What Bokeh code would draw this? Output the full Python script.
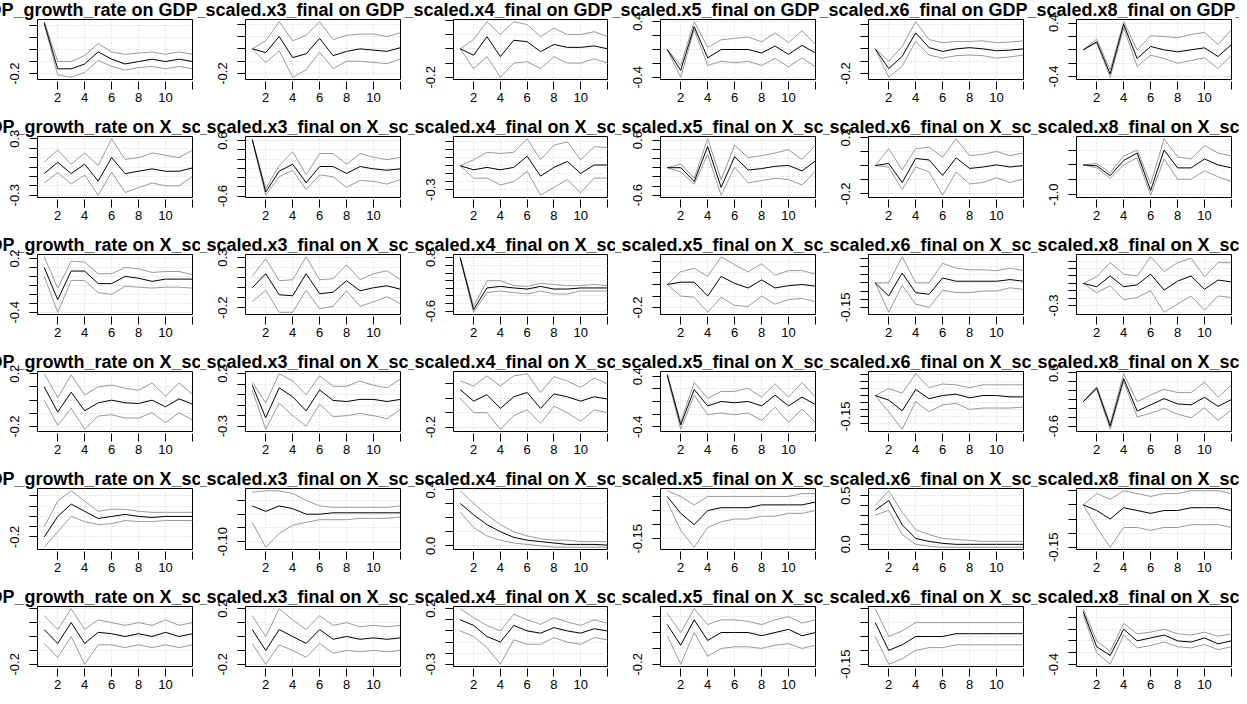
from bokeh.plotting import figure
from bokeh.layouts import gridplot
from bokeh.models import Range1d, FixedTicker, Title
from bokeh.embed import file_html
from bokeh.resources import INLINE

variables = ["GDP_growth_rate", "X_scaled.x3_final", "X_scaled.x4_final",
             "X_scaled.x5_final", "X_scaled.x6_final", "X_scaled.x8_final"]
horizon = [1, 2, 3, 4, 5, 6, 7, 8, 9, 10, 11, 12]
x_ticks = [2, 4, 6, 8, 10, 12]
x_tick_labels = ["2", "4", "6", "8", "10", ""]

# ---------------- row 1 : response GDP_growth_rate ----------------
irf_1_1 = [0.22, -0.16, -0.16, -0.12, -0.02, -0.08, -0.12, -0.10, -0.08, -0.10, -0.08, -0.10]
upper_1_1 = [0.23, -0.10, -0.10, -0.05, 0.05, -0.02, -0.04, -0.03, -0.02, -0.04, -0.02, -0.04]
lower_1_1 = [0.21, -0.21, -0.23, -0.19, -0.09, -0.14, -0.17, -0.15, -0.14, -0.16, -0.14, -0.16]
yticks_1_1 = [-0.2, -0.1, 0.0, 0.1, 0.2]
ylabels_1_1 = ["-0.2", "", "", "", ""]

irf_1_2 = [0.0, -0.03, 0.10, -0.07, -0.04, 0.085, -0.055, -0.02, 0.0, -0.01, -0.02, 0.01]
upper_1_2 = [0.0, 0.065, 0.22, 0.065, 0.11, 0.22, 0.075, 0.11, 0.12, 0.12, 0.10, 0.13]
lower_1_2 = [0.0, -0.11, -0.015, -0.23, -0.17, -0.025, -0.16, -0.10, -0.10, -0.11, -0.12, -0.08]
yticks_1_2 = [-0.2, -0.1, 0.0, 0.1, 0.2]
ylabels_1_2 = ["-0.2", "", "", "", ""]

irf_1_3 = [0.0, -0.045, 0.085, -0.055, 0.06, 0.05, -0.02, 0.03, 0.01, 0.01, 0.02, 0.0]
upper_1_3 = [0.0, 0.065, 0.19, 0.10, 0.19, 0.17, 0.085, 0.145, 0.10, 0.10, 0.12, 0.085]
lower_1_3 = [0.0, -0.14, -0.055, -0.20, -0.10, -0.09, -0.14, -0.055, -0.10, -0.10, -0.07, -0.10]
yticks_1_3 = [-0.2, -0.1, 0.0, 0.1, 0.2]
ylabels_1_3 = ["-0.2", "", "", "", ""]

irf_1_4 = [0.0, -0.30, 0.33, -0.12, 0.0, 0.0, 0.0, -0.05, 0.05, -0.07, 0.06, -0.05]
upper_1_4 = [0.0, -0.23, 0.40, 0.03, 0.14, 0.16, 0.18, 0.11, 0.24, 0.10, 0.27, 0.07]
lower_1_4 = [0.0, -0.40, 0.29, -0.23, -0.17, -0.19, -0.17, -0.23, -0.13, -0.25, -0.12, -0.25]
yticks_1_4 = [-0.4, -0.2, 0.0, 0.2, 0.4]
ylabels_1_4 = ["-0.4", "", "", "", "0.4"]

irf_1_5 = [0.0, -0.16, -0.06, 0.13, 0.01, -0.02, 0.0, 0.01, 0.0, -0.015, -0.01, 0.0]
upper_1_5 = [0.0, -0.10, 0.02, 0.22, 0.075, 0.05, 0.06, 0.06, 0.065, 0.05, 0.055, 0.065]
lower_1_5 = [0.0, -0.23, -0.14, 0.06, -0.05, -0.075, -0.055, -0.05, -0.055, -0.075, -0.065, -0.05]
yticks_1_5 = [-0.2, -0.1, 0.0, 0.1, 0.2]
ylabels_1_5 = ["-0.2", "", "", "", ""]

irf_1_6 = [0.0, 0.12, -0.36, 0.38, -0.13, 0.05, 0.0, -0.03, 0.0, 0.03, -0.10, 0.08]
upper_1_6 = [0.0, 0.16, -0.30, 0.42, 0.0, 0.21, 0.20, 0.18, 0.23, 0.26, 0.08, 0.30]
lower_1_6 = [0.0, 0.10, -0.41, 0.33, -0.25, -0.08, -0.13, -0.20, -0.16, -0.12, -0.28, -0.08]
yticks_1_6 = [-0.4, -0.2, 0.0, 0.2, 0.4]
ylabels_1_6 = ["-0.4", "", "", "", "0.4"]

# ---------------- row 2 : response X_scaled.x3_final ----------------
irf_2_1 = [-0.07, 0.05, -0.07, 0.03, -0.15, 0.10, -0.07, -0.045, -0.02, -0.045, -0.045, -0.01]
upper_2_1 = [0.05, 0.18, 0.03, 0.15, 0.015, 0.30, 0.08, 0.10, 0.15, 0.125, 0.10, 0.18]
lower_2_1 = [-0.17, -0.06, -0.18, -0.085, -0.30, -0.055, -0.27, -0.22, -0.17, -0.20, -0.20, -0.10]
yticks_2_1 = [-0.3, -0.2, -0.1, 0.0, 0.1, 0.2, 0.3]
ylabels_2_1 = ["-0.3", "", "", "", "", "", "0.3"]

irf_2_2 = [0.62, -0.51, -0.06, 0.09, -0.31, 0.04, 0.04, -0.11, 0.04, -0.01, -0.04, -0.01]
upper_2_2 = [0.64, -0.44, 0.06, 0.36, -0.14, 0.32, 0.32, 0.09, 0.32, 0.24, 0.19, 0.24]
lower_2_2 = [0.60, -0.58, -0.18, -0.04, -0.46, -0.14, -0.18, -0.41, -0.26, -0.28, -0.34, -0.24]
yticks_2_2 = [-0.6, -0.4, -0.2, 0.0, 0.2, 0.4, 0.6]
ylabels_2_2 = ["-0.6", "", "", "", "", "", "0.6"]

irf_2_3 = [0.0, -0.05, -0.02, -0.05, -0.02, 0.12, -0.13, -0.02, 0.055, -0.095, 0.01, 0.01]
upper_2_3 = [0.0, 0.075, 0.17, 0.155, 0.17, 0.34, 0.075, 0.26, 0.30, 0.075, 0.24, 0.23]
lower_2_3 = [0.0, -0.155, -0.155, -0.24, -0.20, -0.07, -0.37, -0.27, -0.175, -0.34, -0.155, -0.155]
yticks_2_3 = [-0.3, -0.2, -0.1, 0.0, 0.1, 0.2, 0.3]
ylabels_2_3 = ["-0.3", "", "", "", "", "", ""]

irf_2_4 = [0.0, 0.0, -0.30, 0.46, -0.43, 0.24, -0.05, -0.02, 0.03, 0.05, -0.07, 0.15]
upper_2_4 = [0.0, 0.08, -0.23, 0.63, -0.26, 0.49, 0.22, 0.26, 0.32, 0.39, 0.18, 0.49]
lower_2_4 = [0.0, -0.09, -0.36, 0.29, -0.60, 0.01, -0.33, -0.28, -0.23, -0.26, -0.38, -0.07]
yticks_2_4 = [-0.6, -0.4, -0.2, 0.0, 0.2, 0.4, 0.6]
ylabels_2_4 = ["-0.6", "", "", "", "", "", "0.6"]

irf_2_5 = [0.0, 0.015, -0.12, 0.05, 0.04, -0.07, 0.055, -0.02, -0.01, 0.005, -0.01, 0.0]
upper_2_5 = [0.0, 0.12, -0.03, 0.12, 0.13, 0.06, 0.19, 0.07, 0.08, 0.10, 0.07, 0.09]
lower_2_5 = [0.0, -0.01, -0.17, -0.01, -0.045, -0.21, -0.045, -0.13, -0.12, -0.085, -0.12, -0.095]
yticks_2_5 = [-0.2, -0.1, 0.0, 0.1, 0.2]
ylabels_2_5 = ["-0.2", "", "", "", "0.2"]

irf_2_6 = [0.0, -0.03, -0.36, 0.15, 0.40, -0.86, 0.50, -0.10, -0.10, 0.20, 0.0, -0.10]
upper_2_6 = [0.0, 0.05, -0.26, 0.30, 0.50, -0.64, 0.88, 0.27, 0.20, 0.65, 0.40, 0.30]
lower_2_6 = [0.0, -0.10, -0.45, 0.0, 0.24, -1.02, 0.20, -0.48, -0.48, -0.20, -0.40, -0.56]
yticks_2_6 = [-1.0, -0.5, 0.0, 0.5, 1.0]
ylabels_2_6 = ["-1.0", "", "", "", ""]

# ---------------- row 3 : response X_scaled.x4_final ----------------
irf_3_1 = [0.10, -0.26, 0.06, 0.06, -0.08, -0.08, 0.0, -0.02, -0.055, -0.03, -0.03, -0.03]
upper_3_1 = [0.22, -0.13, 0.17, 0.16, 0.03, 0.03, 0.10, 0.085, 0.045, 0.055, 0.055, 0.02]
lower_3_1 = [0.0, -0.40, -0.045, -0.045, -0.18, -0.20, -0.11, -0.12, -0.13, -0.12, -0.12, -0.13]
yticks_3_1 = [-0.4, -0.3, -0.2, -0.1, 0.0, 0.1, 0.2]
ylabels_3_1 = ["-0.4", "", "", "", "", "", "0.2"]

irf_3_2 = [0.0, 0.14, -0.07, -0.08, 0.14, -0.06, -0.045, 0.07, -0.03, 0.0, 0.02, -0.015]
upper_3_2 = [0.115, 0.29, 0.07, 0.08, 0.31, 0.08, 0.09, 0.23, 0.08, 0.14, 0.17, 0.08]
lower_3_2 = [-0.14, -0.025, -0.245, -0.245, -0.025, -0.21, -0.185, -0.03, -0.185, -0.14, -0.09, -0.16]
yticks_3_2 = [-0.2, -0.1, 0.0, 0.1, 0.2, 0.3]
ylabels_3_2 = ["-0.2", "", "", "", "", "0.3"]

irf_3_3 = [0.80, -0.56, 0.01, 0.05, 0.01, -0.02, 0.05, -0.02, -0.02, 0.01, 0.01, 0.01]
upper_3_3 = [0.83, -0.48, 0.20, 0.20, 0.07, 0.05, 0.13, 0.10, 0.07, 0.07, 0.10, 0.07]
lower_3_3 = [0.78, -0.63, -0.11, -0.07, -0.11, -0.15, -0.07, -0.15, -0.15, -0.07, -0.07, -0.07]
yticks_3_3 = [-0.6, -0.4, -0.2, 0.0, 0.2, 0.4, 0.6, 0.8]
ylabels_3_3 = ["-0.6", "", "", "", "", "", "", "0.8"]

irf_3_4 = [0.0, 0.02, 0.02, -0.10, 0.07, 0.01, -0.03, 0.04, -0.03, -0.01, 0.0, -0.015]
upper_3_4 = [0.0, 0.11, 0.14, 0.07, 0.24, 0.17, 0.11, 0.18, 0.08, 0.12, 0.12, 0.09]
lower_3_4 = [0.0, -0.10, -0.11, -0.24, -0.11, -0.18, -0.19, -0.10, -0.17, -0.13, -0.12, -0.15]
yticks_3_4 = [-0.2, -0.1, 0.0, 0.1, 0.2]
ylabels_3_4 = ["-0.2", "", "", "", ""]

irf_3_5 = [0.0, -0.08, 0.06, -0.06, -0.07, 0.03, 0.01, 0.01, 0.01, 0.01, 0.02, 0.01]
upper_3_5 = [0.0, 0.0, 0.16, 0.0, 0.0, 0.12, 0.09, 0.08, 0.08, 0.075, 0.09, 0.075]
lower_3_5 = [0.0, -0.18, -0.015, -0.13, -0.15, -0.045, -0.06, -0.06, -0.05, -0.05, -0.03, -0.04]
yticks_3_5 = [-0.15, -0.10, -0.05, 0.0, 0.05, 0.10, 0.15]
ylabels_3_5 = ["-0.15", "", "", "", "", "", ""]

irf_3_6 = [0.0, -0.045, 0.10, -0.045, -0.02, 0.125, -0.09, 0.03, 0.10, -0.08, 0.045, 0.02]
upper_3_6 = [0.0, 0.09, 0.28, 0.125, 0.10, 0.36, 0.16, 0.28, 0.34, 0.09, 0.28, 0.28]
lower_3_6 = [0.0, -0.125, -0.03, -0.22, -0.19, -0.10, -0.39, -0.28, -0.17, -0.36, -0.17, -0.19]
yticks_3_6 = [-0.3, -0.2, -0.1, 0.0, 0.1, 0.2, 0.3]
ylabels_3_6 = ["-0.3", "", "", "", "", "", ""]

# ---------------- row 4 : response X_scaled.x5_final ----------------
irf_4_1 = [0.10, -0.09, 0.06, -0.08, -0.02, 0.0, -0.02, -0.025, 0.0, -0.05, 0.01, -0.03]
upper_4_1 = [0.20, 0.02, 0.19, 0.04, 0.10, 0.115, 0.09, 0.075, 0.13, 0.03, 0.13, 0.045]
lower_4_1 = [0.0, -0.19, -0.06, -0.22, -0.12, -0.11, -0.135, -0.135, -0.095, -0.17, -0.095, -0.15]
yticks_4_1 = [-0.2, -0.1, 0.0, 0.1, 0.2]
ylabels_4_1 = ["-0.2", "", "", "", "0.2"]

irf_4_2 = [0.09, -0.22, 0.065, -0.02, -0.155, 0.045, -0.055, -0.065, -0.045, -0.045, -0.065, -0.045]
upper_4_2 = [0.12, -0.08, 0.20, 0.13, 0.0, 0.18, 0.08, 0.08, 0.13, 0.09, 0.065, 0.15]
lower_4_2 = [0.045, -0.33, -0.08, -0.20, -0.30, -0.09, -0.21, -0.20, -0.18, -0.20, -0.23, -0.14]
yticks_4_2 = [-0.3, -0.2, -0.1, 0.0, 0.1, 0.2]
ylabels_4_2 = ["-0.3", "", "", "", "", "0.2"]

irf_4_3 = [0.06, -0.02, 0.025, -0.07, 0.01, 0.04, -0.07, 0.03, 0.01, -0.02, 0.01, -0.005]
upper_4_3 = [0.12, 0.085, 0.155, 0.085, 0.155, 0.17, 0.04, 0.15, 0.12, 0.075, 0.14, 0.10]
lower_4_3 = [0.0, -0.10, -0.10, -0.215, -0.12, -0.08, -0.175, -0.055, -0.10, -0.16, -0.08, -0.10]
yticks_4_3 = [-0.2, -0.1, 0.0, 0.1, 0.2]
ylabels_4_3 = ["-0.2", "", "", "", ""]

irf_4_4 = [0.42, -0.37, 0.19, -0.07, 0.0, -0.02, 0.0, -0.07, 0.10, -0.07, 0.07, -0.05]
upper_4_4 = [0.44, -0.33, 0.30, 0.05, 0.16, 0.16, 0.21, 0.07, 0.28, 0.07, 0.30, 0.07]
lower_4_4 = [0.40, -0.44, 0.10, -0.21, -0.18, -0.21, -0.18, -0.30, -0.09, -0.33, -0.12, -0.33]
yticks_4_4 = [-0.4, -0.2, 0.0, 0.2, 0.4]
ylabels_4_4 = ["-0.4", "", "", "", "0.4"]

irf_4_5 = [0.0, -0.033, -0.11, 0.043, -0.023, 0.0, 0.01, -0.017, 0.0, 0.0, -0.01, -0.01]
upper_4_5 = [0.0, 0.05, 0.017, 0.157, 0.057, 0.083, 0.077, 0.057, 0.077, 0.077, 0.077, 0.077]
lower_4_5 = [0.0, -0.117, -0.243, -0.043, -0.117, -0.067, -0.057, -0.10, -0.09, -0.09, -0.09, -0.083]
yticks_4_5 = [-0.20, -0.15, -0.10, -0.05, 0.0, 0.05, 0.10, 0.15]
ylabels_4_5 = ["", "-0.15", "", "", "", "", "", ""]

irf_4_6 = [-0.05, 0.26, -0.60, 0.47, -0.26, -0.12, 0.02, -0.10, -0.12, 0.05, -0.155, 0.0]
upper_4_6 = [-0.05, 0.29, -0.54, 0.58, -0.05, 0.10, 0.23, 0.155, 0.155, 0.39, 0.05, 0.33]
lower_4_6 = [-0.05, 0.23, -0.67, 0.41, -0.39, -0.31, -0.20, -0.33, -0.41, -0.19, -0.47, -0.23]
yticks_4_6 = [-0.6, -0.4, -0.2, 0.0, 0.2, 0.4, 0.6]
ylabels_4_6 = ["-0.6", "", "", "", "", "", "0.6"]

# ---------------- row 5 : response X_scaled.x6_final ----------------
irf_5_1 = [-0.20, 0.0, 0.12, 0.05, -0.02, 0.0, 0.02, 0.0, -0.01, 0.0, 0.0, 0.0]
upper_5_1 = [-0.10, 0.15, 0.25, 0.15, 0.05, 0.07, 0.07, 0.05, 0.04, 0.04, 0.04, 0.04]
lower_5_1 = [-0.30, -0.15, 0.0, -0.05, -0.08, -0.07, -0.04, -0.05, -0.05, -0.04, -0.04, -0.04]
yticks_5_1 = [-0.2, -0.1, 0.0, 0.1, 0.2]
ylabels_5_1 = ["-0.2", "", "", "", ""]

irf_5_2 = [0.03, 0.01, 0.03, 0.02, 0.0, 0.0, 0.005, 0.005, 0.005, 0.005, 0.005, 0.005]
upper_5_2 = [0.08, 0.085, 0.085, 0.075, 0.05, 0.03, 0.025, 0.025, 0.025, 0.025, 0.025, 0.03]
lower_5_2 = [-0.03, -0.12, -0.07, -0.04, -0.03, -0.02, -0.02, -0.02, -0.015, -0.015, -0.015, -0.01]
yticks_5_2 = [-0.10, -0.05, 0.0, 0.05]
ylabels_5_2 = ["-0.10", "", "", ""]

irf_5_3 = [0.30, 0.22, 0.15, 0.10, 0.06, 0.04, 0.03, 0.02, 0.01, 0.01, 0.01, 0.005]
upper_5_3 = [0.39, 0.30, 0.22, 0.15, 0.10, 0.07, 0.05, 0.04, 0.04, 0.03, 0.03, 0.03]
lower_5_3 = [0.24, 0.13, 0.07, 0.04, 0.02, 0.01, 0.0, -0.01, -0.01, -0.01, -0.01, -0.01]
yticks_5_3 = [0.0, 0.1, 0.2, 0.3, 0.4]
ylabels_5_3 = ["0.0", "", "", "", "0.4"]

irf_5_4 = [0.0, -0.06, -0.10, -0.05, -0.04, -0.04, -0.04, -0.03, -0.03, -0.03, -0.03, -0.02]
upper_5_4 = [0.02, 0.0, -0.03, 0.0, 0.0, 0.0, 0.0, 0.0, 0.0, 0.0, 0.01, 0.01]
lower_5_4 = [-0.02, -0.12, -0.18, -0.11, -0.09, -0.08, -0.08, -0.07, -0.07, -0.06, -0.06, -0.05]
yticks_5_4 = [-0.15, -0.10, -0.05, 0.0]
ylabels_5_4 = ["-0.15", "", "", ""]

irf_5_5 = [0.35, 0.45, 0.20, 0.06, 0.03, 0.01, 0.0, 0.0, 0.0, 0.0, 0.0, 0.0]
upper_5_5 = [0.40, 0.55, 0.33, 0.15, 0.10, 0.06, 0.05, 0.04, 0.03, 0.03, 0.03, 0.03]
lower_5_5 = [0.30, 0.35, 0.10, 0.0, -0.02, -0.03, -0.03, -0.03, -0.03, -0.03, -0.03, -0.03]
yticks_5_5 = [0.0, 0.1, 0.2, 0.3, 0.4, 0.5]
ylabels_5_5 = ["0.0", "", "", "", "", "0.5"]

irf_5_6 = [0.0, -0.02, -0.05, -0.01, -0.02, -0.03, -0.02, -0.02, -0.01, -0.01, -0.01, -0.02]
upper_5_6 = [0.0, 0.04, 0.02, 0.05, 0.04, 0.03, 0.04, 0.04, 0.05, 0.05, 0.05, 0.04]
lower_5_6 = [0.0, -0.08, -0.15, -0.08, -0.08, -0.09, -0.08, -0.08, -0.07, -0.07, -0.07, -0.08]
yticks_5_6 = [-0.15, -0.10, -0.05, 0.0, 0.05]
ylabels_5_6 = ["-0.15", "", "", "", ""]

# ---------------- row 6 : response X_scaled.x8_final ----------------
irf_6_1 = [0.05, -0.05, 0.10, -0.05, 0.03, 0.02, 0.0, 0.02, 0.0, 0.03, 0.0, 0.02]
upper_6_1 = [0.15, 0.05, 0.20, 0.05, 0.12, 0.10, 0.08, 0.10, 0.08, 0.12, 0.08, 0.10]
lower_6_1 = [-0.05, -0.15, 0.0, -0.20, -0.06, -0.06, -0.08, -0.06, -0.08, -0.06, -0.08, -0.06]
yticks_6_1 = [-0.2, -0.1, 0.0, 0.1, 0.2]
ylabels_6_1 = ["-0.2", "", "", "", ""]

irf_6_2 = [0.05, -0.10, 0.05, 0.0, -0.05, 0.05, -0.02, 0.0, -0.02, -0.01, -0.02, -0.01]
upper_6_2 = [0.15, 0.0, 0.20, 0.12, 0.05, 0.15, 0.08, 0.10, 0.07, 0.08, 0.07, 0.08]
lower_6_2 = [-0.05, -0.20, -0.06, -0.10, -0.15, -0.05, -0.12, -0.10, -0.11, -0.10, -0.11, -0.10]
yticks_6_2 = [-0.2, -0.1, 0.0, 0.1, 0.2]
ylabels_6_2 = ["-0.2", "", "", "", "0.2"]

irf_6_3 = [0.10, 0.05, -0.05, -0.10, 0.05, 0.0, -0.02, 0.03, 0.0, -0.02, 0.02, 0.0]
upper_6_3 = [0.20, 0.12, 0.05, 0.0, 0.15, 0.10, 0.06, 0.12, 0.08, 0.05, 0.10, 0.07]
lower_6_3 = [0.0, -0.05, -0.15, -0.30, -0.08, -0.12, -0.12, -0.06, -0.10, -0.12, -0.06, -0.08]
yticks_6_3 = [-0.3, -0.2, -0.1, 0.0, 0.1, 0.2]
ylabels_6_3 = ["-0.3", "", "", "", "", "0.2"]

irf_6_4 = [0.05, -0.08, 0.08, -0.05, 0.0, 0.0, 0.0, -0.02, 0.0, 0.02, -0.02, 0.0]
upper_6_4 = [0.12, 0.0, 0.15, 0.05, 0.08, 0.08, 0.07, 0.05, 0.08, 0.10, 0.06, 0.08]
lower_6_4 = [-0.02, -0.20, 0.0, -0.15, -0.10, -0.09, -0.09, -0.10, -0.08, -0.07, -0.10, -0.08]
yticks_6_4 = [-0.2, -0.1, 0.0, 0.1]
ylabels_6_4 = ["-0.2", "", "", ""]

irf_6_5 = [0.0, -0.10, -0.08, -0.05, -0.05, -0.05, -0.04, -0.04, -0.04, -0.04, -0.04, -0.04]
upper_6_5 = [0.05, -0.05, -0.03, 0.0, 0.0, 0.0, 0.0, 0.0, 0.0, 0.0, 0.0, 0.0]
lower_6_5 = [-0.05, -0.15, -0.13, -0.10, -0.09, -0.09, -0.08, -0.08, -0.08, -0.08, -0.08, -0.08]
yticks_6_5 = [-0.15, -0.10, -0.05, 0.0, 0.05]
ylabels_6_5 = ["-0.15", "", "", "", ""]

irf_6_6 = [0.50, -0.10, -0.25, 0.20, 0.0, 0.05, 0.10, 0.0, -0.02, 0.05, -0.05, 0.0]
upper_6_6 = [0.55, 0.0, -0.18, 0.30, 0.12, 0.15, 0.20, 0.12, 0.10, 0.15, 0.08, 0.12]
lower_6_6 = [0.45, -0.20, -0.40, 0.10, -0.12, -0.08, -0.02, -0.10, -0.12, -0.06, -0.15, -0.10]
yticks_6_6 = [-0.4, -0.2, 0.0, 0.2, 0.4]
ylabels_6_6 = ["-0.4", "", "", "", ""]

g = globals()

# panel grid: the whole page area is split like R's par(mfrow = c(6, 6))
COL_W = [208, 208, 207, 208, 208, 208]
ROW_H = [117, 118, 117, 117, 118, 117]
LB, RB, TB, BB = 45, 8, 27, 30
FONT = "Liberation Sans"
BAND = "#9a9a9a"
GRID = "#d3d3d3"
TITLE_PX = 18
TITLE_CENTER = 105   # title centre, pixels right of the frame's left edge

# Arial/Liberation Sans Bold advance widths (per 1000 em) for centring the title
_BOLD_W = {" ": 278, ".": 278, "_": 556, "G": 778, "D": 722, "P": 667, "X": 667,
           "0": 556, "1": 556, "2": 556, "3": 556, "4": 556, "5": 556, "6": 556,
           "7": 556, "8": 556, "9": 556, "a": 556, "c": 556, "d": 611, "e": 556,
           "f": 333, "g": 611, "h": 611, "i": 278, "l": 278, "n": 611, "o": 611,
           "r": 389, "s": 556, "t": 333, "w": 778, "x": 556}


def text_width(s, px):
    return sum(_BOLD_W.get(ch, 600) for ch in s) * px / 1000.0


def make_panel(r, c):
    irf = g[f"irf_{r}_{c}"]
    lo = g[f"lower_{r}_{c}"]
    up = g[f"upper_{r}_{c}"]
    ticks = g[f"yticks_{r}_{c}"]
    labs = g[f"ylabels_{r}_{c}"]
    allv = irf + lo + up
    vmin, vmax = min(allv), max(allv)
    pad = 0.04 * (vmax - vmin)
    p = figure(width=COL_W[c - 1], height=ROW_H[r - 1], output_backend="svg",
               toolbar_location=None,
               x_range=Range1d(0.5, 12), y_range=Range1d(vmin - pad, vmax + pad),
               min_border_left=LB, min_border_right=RB,
               min_border_top=TB, min_border_bottom=BB)
    p.styles = {"overflow": "hidden"}
    p.background_fill_color = "white"
    p.border_fill_color = "white"
    p.outline_line_color = "black"
    p.outline_line_width = 1
    p.outline_line_alpha = 1.0

    p.line(horizon, up, line_color=BAND, line_width=1)
    p.line(horizon, lo, line_color=BAND, line_width=1)
    p.line(horizon, irf, line_color="black", line_width=1)

    xa = p.xaxis[0]
    xa.ticker = FixedTicker(ticks=x_ticks)
    xa.major_label_overrides = dict(zip(x_ticks, x_tick_labels))
    xa.axis_line_color = None
    xa.major_tick_in = -2
    xa.major_tick_out = 10
    xa.major_tick_line_color = "black"
    xa.minor_tick_line_color = None
    xa.major_label_standoff = 3
    xa.major_label_text_font = FONT
    xa.major_label_text_font_size = "13px"
    xa.major_label_text_color = "black"

    ya = p.yaxis[0]
    ya.ticker = FixedTicker(ticks=ticks)
    ya.major_label_overrides = dict(zip(ticks, labs))
    ya.axis_line_color = None
    ya.major_tick_in = 0
    ya.major_tick_out = 8
    ya.major_tick_line_color = "black"
    ya.minor_tick_line_color = None
    ya.major_label_orientation = "vertical"
    ya.major_label_standoff = 10
    ya.major_label_text_font = FONT
    ya.major_label_text_font_size = "13px"
    ya.major_label_text_color = "black"

    for gr in (p.xgrid[0], p.ygrid[0]):
        gr.grid_line_color = GRID
        gr.grid_line_dash = "1 2"
        gr.grid_line_width = 1

    text = f"{variables[c - 1]} on {variables[r - 1]}"
    start = TITLE_CENTER - text_width(text, TITLE_PX) / 2.0
    t = Title(text=text, align="left", offset=start, standoff=0,
              vertical_align="bottom", text_font=FONT, text_font_style="bold",
              text_font_size=f"{TITLE_PX}px", text_color="black")
    p.title = t
    return p


rows = [[make_panel(r, c) for c in range(1, 7)] for r in range(1, 7)]
grid = gridplot(rows, toolbar_location=None)
# cancel the page's 8px body margin so the grid covers the window like the R device
grid.styles = {"margin": "-8px"}

open("out.html", "w").write(file_html(grid, INLINE))
